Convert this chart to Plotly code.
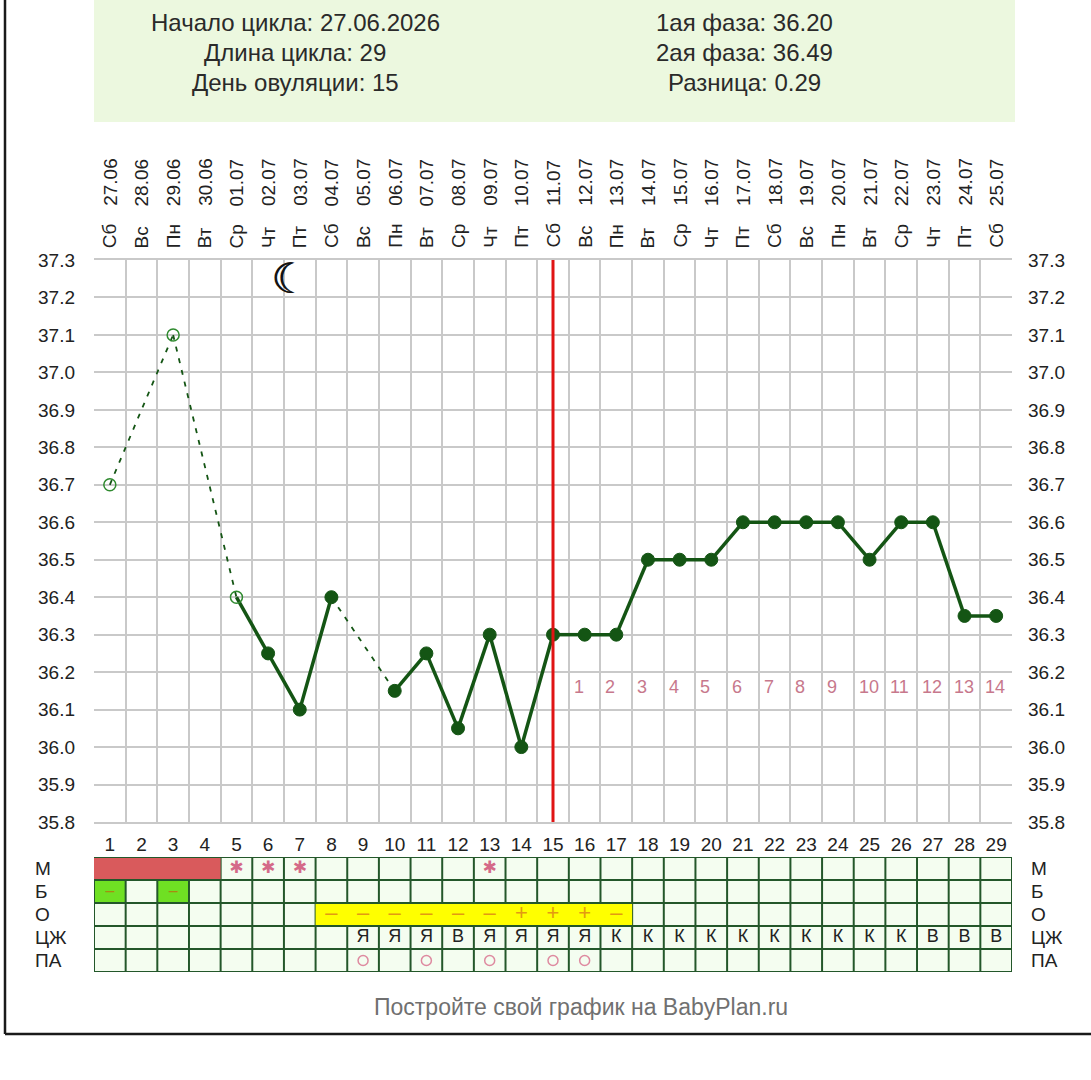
import plotly.graph_objects as go

# ---------------- data ----------------
days = list(range(1, 30))
dates = ["27.06", "28.06", "29.06", "30.06", "01.07", "02.07", "03.07", "04.07",
         "05.07", "06.07", "07.07", "08.07", "09.07", "10.07", "11.07", "12.07",
         "13.07", "14.07", "15.07", "16.07", "17.07", "18.07", "19.07", "20.07",
         "21.07", "22.07", "23.07", "24.07", "25.07"]
weekdays = ["Сб", "Вс", "Пн", "Вт", "Ср", "Чт", "Пт", "Сб", "Вс", "Пн", "Вт", "Ср",
            "Чт", "Пт", "Сб", "Вс", "Пн", "Вт", "Ср", "Чт", "Пт", "Сб", "Вс", "Пн",
            "Вт", "Ср", "Чт", "Пт", "Сб"]
temps = [36.7, None, 37.1, None, 36.4, 36.25, 36.1, 36.4, None, 36.15,
         36.25, 36.05, 36.3, 36.0, 36.3, 36.3, 36.3, 36.5, 36.5, 36.5,
         36.6, 36.6, 36.6, 36.6, 36.5, 36.6, 36.6, 36.35, 36.35]
open_days = [1, 3, 5]
ovulation_day = 15
moon_x = 6.5
moon_y = 37.25
y_ticks = [35.8, 35.9, 36.0, 36.1, 36.2, 36.3, 36.4, 36.5, 36.6, 36.7,
           36.8, 36.9, 37.0, 37.1, 37.2, 37.3]

header_left = ["Начало цикла: 27.06.2026", "Длина цикла: 29", "День овуляции: 15"]
header_right = ["1ая фаза: 36.20", "2ая фаза: 36.49", "Разница: 0.29"]
footer = "Постройте свой график на BabyPlan.ru"

row_names = ["М", "Б", "О", "ЦЖ", "ПА"]
m_red_days = [1, 2, 3, 4]
m_star_days = [5, 6, 7, 13]
b_green_days = [1, 3]
o_days = [8, 9, 10, 11, 12, 13, 14, 15, 16, 17]
o_signs = ["–", "–", "–", "–", "–", "–", "+", "+", "+", "–"]
cz_days = list(range(9, 30))
cz_vals = ["Я", "Я", "Я", "В", "Я", "Я", "Я", "Я", "К", "К", "К", "К", "К",
           "К", "К", "К", "К", "К", "В", "В", "В"]
pa_days = [9, 11, 13, 15, 16]

# ---------------- geometry / styles ----------------
W, H = 1091, 1080
def px(x): return x / W
def py(y): return 1 - y / H

FONT = "Arial, Liberation Sans, sans-serif"
DARK = "#145514"
GRID = "#c9c9c9"
TABLE_LINE = "#23572a"
PINK = "#d46a88"

fig = go.Figure()

# temperature line segments: solid between consecutive days, dashed over gaps
present = [(d, t) for d, t in zip(days, temps) if t is not None]
for (d0, t0), (d1, t1) in zip(present[:-1], present[1:]):
    gap = d1 - d0 > 1
    fig.add_trace(go.Scatter(
        x=[d0, d1], y=[t0, t1], mode="lines", hoverinfo="skip", showlegend=False,
        line=dict(color=DARK, width=1.8 if gap else 3.5, dash="5px,7px" if gap else "solid")))

filled_x = [d for d, t in present if d not in open_days]
filled_y = [t for d, t in present if d not in open_days]
open_x = [d for d, t in present if d in open_days]
open_y = [t for d, t in present if d in open_days]
fig.add_trace(go.Scatter(x=filled_x, y=filled_y, mode="markers", showlegend=False,
                         marker=dict(color=DARK, size=13, line=dict(color=DARK, width=1))))
fig.add_trace(go.Scatter(x=open_x, y=open_y, mode="markers", showlegend=False,
                         marker=dict(symbol="circle-open", color="#2f8a2f", size=12,
                                     line=dict(width=1.5))))

# right axis twin (invisible trace)
fig.add_trace(go.Scatter(x=[days[0]], y=[y_ticks[0]], yaxis="y2", mode="markers",
                         marker=dict(opacity=0), showlegend=False, hoverinfo="skip"))

# post-ovulation day numbers
post_days = [d for d in days if d > ovulation_day]
for i, d in enumerate(post_days, start=1):
    fig.add_annotation(x=d - 0.5, y=36.16, xref="x", yref="y", text=str(i),
                       xanchor="left", yanchor="middle", xshift=3, showarrow=False,
                       font=dict(family=FONT, size=18, color="#c7788c"))

# moon (drawn twice with a 1px offset for a slightly thicker outline)
for dx in [0, 1]:
    fig.add_annotation(x=moon_x, y=moon_y, xref="x", yref="y", text="☾", showarrow=False,
                       xshift=6 + dx,
                       font=dict(family="DejaVu Sans", size=42, color="#111"))

# ovulation line
fig.add_shape(type="line", xref="x", yref="y", x0=ovulation_day, x1=ovulation_day,
              y0=y_ticks[0], y1=y_ticks[-1], line=dict(color="#e01414", width=3), layer="above")

# top date labels
for d, wd, dt in zip(days, weekdays, dates):
    fig.add_annotation(x=d, y=py(250), xref="x", yref="paper", text=wd, textangle=-90,
                       xanchor="center", yanchor="bottom", showarrow=False,
                       font=dict(family=FONT, size=19, color="#222"))
    fig.add_annotation(x=d, y=py(208), xref="x", yref="paper", text=dt, textangle=-90,
                       xanchor="center", yanchor="bottom", showarrow=False,
                       font=dict(family=FONT, size=19, color="#222"))

# ---------------- table ----------------
x_lo, x_hi = days[0] - 0.5, days[-1] + 0.5
nrows = len(row_names)
TL = "between"
fig.add_shape(type="rect", xref="x", yref="y3", x0=x_lo, x1=x_hi, y0=0, y1=nrows,
              fillcolor="#f4fdf0", line=dict(width=0), layer=TL)
for d in b_green_days:
    fig.add_shape(type="rect", xref="x", yref="y3", x0=d - 0.5, x1=d + 0.5, y0=1, y1=2,
                  fillcolor="#6fe023", line=dict(width=0), layer=TL)
for k in range(len(days) + 1):
    xv = x_lo + k
    fig.add_shape(type="line", xref="x", yref="y3", x0=xv, x1=xv, y0=0, y1=nrows,
                  line=dict(color=TABLE_LINE, width=2), layer=TL)
fig.add_shape(type="rect", xref="x", yref="y3", x0=min(m_red_days) - 0.5,
              x1=max(m_red_days) + 0.5, y0=0, y1=1, fillcolor="#d95a5c",
              line=dict(width=0), layer=TL)
fig.add_shape(type="rect", xref="x", yref="y3", x0=min(o_days) - 0.5,
              x1=max(o_days) + 0.5, y0=2, y1=3, fillcolor="#ffff00",
              line=dict(width=0), layer=TL)
for r in range(nrows + 1):
    fig.add_shape(type="line", xref="x", yref="y3", x0=x_lo, x1=x_hi, y0=r, y1=r,
                  line=dict(color=TABLE_LINE, width=2), layer=TL)

fig.add_trace(go.Scatter(x=m_star_days, y=[0.5] * len(m_star_days), yaxis="y3",
                         mode="text", text=["✱"] * len(m_star_days), showlegend=False,
                         textfont=dict(family="DejaVu Sans", size=17, color=PINK),
                         textposition="middle center", hoverinfo="skip"))
fig.add_trace(go.Scatter(x=b_green_days, y=[1.5] * len(b_green_days), yaxis="y3",
                         mode="text", text=["–"] * len(b_green_days), showlegend=False,
                         textfont=dict(family=FONT, size=16, color="#a88a10"),
                         textposition="middle center", hoverinfo="skip"))
fig.add_trace(go.Scatter(x=o_days, y=[2.5] * len(o_days), yaxis="y3",
                         mode="text", text=o_signs, showlegend=False,
                         textfont=dict(family=FONT, size=22, color="#e39a12"),
                         textposition="middle center", hoverinfo="skip"))
fig.add_trace(go.Scatter(x=cz_days, y=[3.5] * len(cz_days), yaxis="y3",
                         mode="text", text=cz_vals, showlegend=False,
                         textfont=dict(family=FONT, size=18, color="#222"),
                         textposition="middle center", hoverinfo="skip"))
fig.add_trace(go.Scatter(x=pa_days, y=[4.5] * len(pa_days), yaxis="y3",
                         mode="markers", showlegend=False, hoverinfo="skip",
                         marker=dict(symbol="circle-open", size=10, color="#de8aa0",
                                     line=dict(width=1.5))))

for r, name in enumerate(row_names):
    fig.add_annotation(x=px(33), y=r + 0.5, xref="paper", yref="y3", text=name,
                       xanchor="left", yanchor="middle", showarrow=False,
                       font=dict(family=FONT, size=19, color="#222"))
    fig.add_annotation(x=px(1029), y=r + 0.5, xref="paper", yref="y3", text=name,
                       xanchor="left", yanchor="middle", showarrow=False,
                       font=dict(family=FONT, size=19, color="#222"))

# ---------------- header & footer ----------------
fig.add_shape(type="rect", xref="paper", yref="paper", x0=px(94), x1=px(1015),
              y0=py(122), y1=1, fillcolor="#ecf8df", line=dict(width=0), layer="below")
for i, (tl, tr) in enumerate(zip(header_left, header_right)):
    yc = py(22 + 30 * i)
    fig.add_annotation(x=px(295), y=yc, xref="paper", yref="paper", text=tl,
                       showarrow=False, xanchor="center", yanchor="middle",
                       font=dict(family=FONT, size=24, color="#2a2a2a"))
    fig.add_annotation(x=px(745), y=yc, xref="paper", yref="paper", text=tr,
                       showarrow=False, xanchor="center", yanchor="middle",
                       font=dict(family=FONT, size=24, color="#2a2a2a"))
fig.add_annotation(x=px(581), y=py(1007), xref="paper", yref="paper", text=footer,
                   showarrow=False, xanchor="center", yanchor="middle",
                   font=dict(family=FONT, size=23, color="#707070"))

# frame
fig.add_shape(type="line", xref="paper", yref="paper", x0=px(5), x1=px(5),
              y0=py(1034), y1=1, line=dict(color="#1a1a1a", width=2.5))
fig.add_shape(type="line", xref="paper", yref="paper", x0=px(5), x1=1,
              y0=py(1034), y1=py(1034), line=dict(color="#1a1a1a", width=2.5))

# ---------------- axes ----------------
tick_text = [f"{v:.1f}" for v in y_ticks]
fig.update_layout(
    width=W, height=H, margin=dict(l=0, r=0, t=0, b=0, autoexpand=False),
    paper_bgcolor="white", plot_bgcolor="white", showlegend=False,
    xaxis=dict(domain=[px(94), px(1012)], range=[x_lo, x_hi], anchor="y",
               automargin=False,
               tickmode="array", tickvals=days, ticktext=[str(d) for d in days],
               showgrid=False, zeroline=False, ticks="", ticklabelstandoff=4,
               tickfont=dict(family=FONT, size=19, color="#222"),
               showline=True, mirror=True, linecolor=GRID, linewidth=1.5,
               minor=dict(tickmode="linear", tick0=0.5, dtick=1, showgrid=True,
                          gridcolor=GRID, gridwidth=1.5, ticks="")),
    yaxis=dict(domain=[py(822), py(260)], range=[y_ticks[0], y_ticks[-1]],
               automargin=False,
               tickmode="array", tickvals=y_ticks, ticktext=tick_text,
               showgrid=True, gridcolor=GRID, gridwidth=1.5, zeroline=False,
               ticks="", ticklabelstandoff=18,
               tickfont=dict(family=FONT, size=19, color="#222")),
    yaxis2=dict(overlaying="y", side="right", matches="y", anchor="x",
                automargin=False, range=[y_ticks[0], y_ticks[-1]],
                tickmode="array", tickvals=y_ticks, ticktext=tick_text,
                showgrid=False, zeroline=False, ticks="", ticklabelstandoff=15,
                tickfont=dict(family=FONT, size=19, color="#222")),
    yaxis3=dict(domain=[py(972), py(857)], range=[nrows, 0], anchor="x",
                automargin=False,
                showgrid=False, zeroline=False, showticklabels=False, ticks=""),
)

fig.write_html("out.html", config={"displayModeBar": False},
               post_script="document.body.style.margin='0';document.body.style.padding='0';"
                           "document.documentElement.style.overflow='hidden';")
